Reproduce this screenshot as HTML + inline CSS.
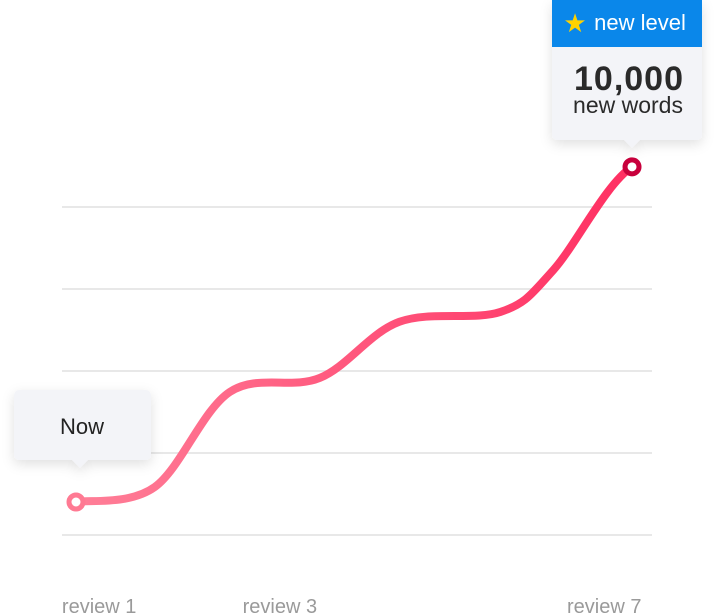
<!DOCTYPE html>
<html><head><meta charset="utf-8"><style>
body{margin:0;width:722px;height:616px;background:#fff;overflow:hidden;font-family:"Liberation Sans",sans-serif;}
svg{position:absolute;left:0;top:0}
</style></head><body>
<svg width="722" height="616">
<defs>
<linearGradient id="lg" x1="0" x2="1" y1="0" y2="0"><stop offset="0" stop-color="#ff7f98"/><stop offset="1" stop-color="#ff2f62"/></linearGradient>
<filter id="sh" x="-30%" y="-30%" width="160%" height="170%"><feDropShadow dx="0" dy="4" stdDeviation="6" flood-color="#000" flood-opacity="0.12"/></filter>
</defs>
<g id="grid"></g>
<g id="xlabels"></g>
<path id="line" fill="none" stroke="url(#lg)" stroke-width="8" stroke-linecap="round"/>
<g id="marks"></g>
<g filter="url(#sh)">
<rect x="14" y="390" width="137" height="70" rx="5" fill="#f3f4f8"/>
<path d="M72 460 L80 468 L88 460Z" fill="#f3f4f8"/>
</g>
<text x="82" y="434" text-anchor="middle" font-size="22" fill="#222">Now</text>
<g filter="url(#sh)">
<rect x="552" y="0" width="150" height="140" rx="5" fill="#f3f4f8"/>
<path d="M624 140 L632 148 L640 140Z" fill="#f3f4f8"/>
</g>
<path d="M552 0 H702 V47 H552Z" fill="#0a87ea"/>
<text x="575" y="32" text-anchor="middle" font-size="26" fill="#ffd200">★</text>
<text x="640" y="30" text-anchor="middle" font-size="22" fill="#fff">new level</text>
<text x="629" y="90" text-anchor="middle" font-size="34" font-weight="bold" letter-spacing="1" fill="#2a2a2a">10,000</text>
<text x="628" y="113" text-anchor="middle" font-size="23" fill="#2a2a2a">new words</text>
</svg>
<script>
const gridTicks=[0,2000,4000,6000,8000];
const xs=[1,1.85,2.66,3.63,4.49,5.58,6.15,7];
const vals=[805,1170,3490,3830,5200,5440,6460,8980];
const labelText=["review 1","review 3","review 7"];
const labelX=[1.25,3.2,6.7];
const X=v=>76+(v-1)*92.67;
const Y=v=>535-v*0.041;
const ns="http://www.w3.org/2000/svg";
const grid=document.getElementById('grid');
gridTicks.forEach(t=>{const l=document.createElementNS(ns,'line');
l.setAttribute('x1',62);l.setAttribute('x2',652);l.setAttribute('y1',Y(t));l.setAttribute('y2',Y(t));
l.setAttribute('stroke','#e8e8e8');l.setAttribute('stroke-width','2');


grid.appendChild(l);});
const xl=document.getElementById('xlabels');
labelText.forEach((s,i)=>{const t=document.createElementNS(ns,'text');
t.setAttribute('x',X(labelX[i]));t.setAttribute('y',613);t.setAttribute('text-anchor','middle');
t.setAttribute('font-size','20');t.setAttribute('fill','#9a9a9a');t.textContent=s;


xl.appendChild(t);});
const P=xs.map((x,i)=>[X(x),Y(vals[i])]);
const n=P.length;
let d='M'+P[0][0]+' '+P[0][1];
for(let i=0;i<n-1;i++){const p0=P[i-1]||P[i],p1=P[i],p2=P[i+1];
const p3=P[i+2]||[p2[0]+(p2[0]-p1[0]),p2[1]];
const c1=[p1[0]+(p2[0]-p0[0])/6,p1[1]+(p2[1]-p0[1])/6],c2=[p2[0]-(p3[0]-p1[0])/6,p2[1]-(p3[1]-p1[1])/6];
d+=` C${c1[0]} ${c1[1]} ${c2[0]} ${c2[1]} ${p2[0]} ${p2[1]}`;}
document.getElementById('line').setAttribute('d',d);
const m=document.getElementById('marks');
[[0,'#ff7a93','start-point'],[n-1,'#c8003c','end-point']].forEach(([i,c,nm])=>{
const e=document.createElementNS(ns,'circle');e.setAttribute('cx',P[i][0]);e.setAttribute('cy',P[i][1]);
e.setAttribute('r',7);e.setAttribute('fill','#fff');e.setAttribute('stroke',c);e.setAttribute('stroke-width','5');


m.appendChild(e);});
</script>
</body></html>
